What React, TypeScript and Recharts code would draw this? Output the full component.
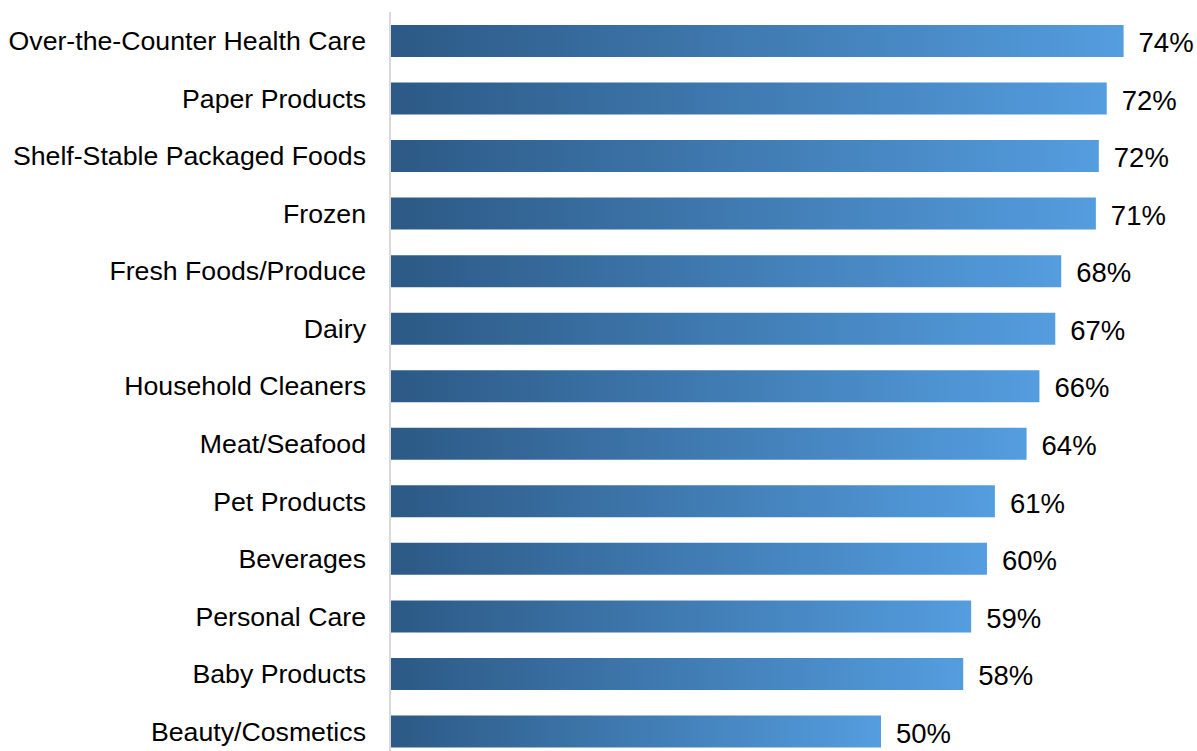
import React from 'react';
import { BarChart, Bar, XAxis, YAxis, LabelList } from 'recharts';

// categories top to bottom
const categories = [
  'Over-the-Counter Health Care',
  'Paper Products',
  'Shelf-Stable Packaged Foods',
  'Frozen',
  'Fresh Foods/Produce',
  'Dairy',
  'Household Cleaners',
  'Meat/Seafood',
  'Pet Products',
  'Beverages',
  'Personal Care',
  'Baby Products',
  'Beauty/Cosmetics',
];

// share in percent
const shares = [74.1, 72.4, 71.6, 71.3, 67.8, 67.2, 65.6, 64.3, 61.1, 60.3, 58.7, 57.9, 49.6];

const data = categories.map((name, i) => ({ name, value: shares[i] }));

const font = '"Liberation Sans", Arial, sans-serif';

const App: React.FC = () => {
  return (
    <div style={{ position: 'fixed', top: 0, left: 0, width: 1197, height: 751, overflow: 'hidden', background: '#fff' }}>
      <BarChart
        width={1197}
        height={760}
        data={data}
        layout="vertical"
        margin={{ top: 12, right: 15, bottom: 0, left: 0 }}
      >
        <defs>
          <linearGradient id="barFill" x1="0" y1="0" x2="1" y2="0">
            <stop offset="0%" stopColor="#2c5985" />
            <stop offset="100%" stopColor="#549ddf" />
          </linearGradient>
        </defs>
        <XAxis type="number" domain={[0, 80]} hide />
        <YAxis
          type="category"
          dataKey="name"
          width={390}
          tickLine={false}
          tickSize={0}
          tickMargin={24}
          axisLine={{ stroke: '#d9d9d9', strokeWidth: 2 }}
          tick={{ fill: '#000', fontSize: 26.7, fontFamily: font }}
          interval={0}
        />
        <Bar dataKey="value" fill="url(#barFill)" barSize={32} isAnimationActive={false}>
          <LabelList
            dataKey="value"
            position="right"
            offset={15}
            formatter={(v: any) => `${Math.round(Number(v))}%`}
            style={{ fill: '#000', fontSize: 27.5, fontFamily: font, transform: 'translateY(1.5px)' }}
          />
        </Bar>
      </BarChart>
    </div>
  );
};

export default App;
